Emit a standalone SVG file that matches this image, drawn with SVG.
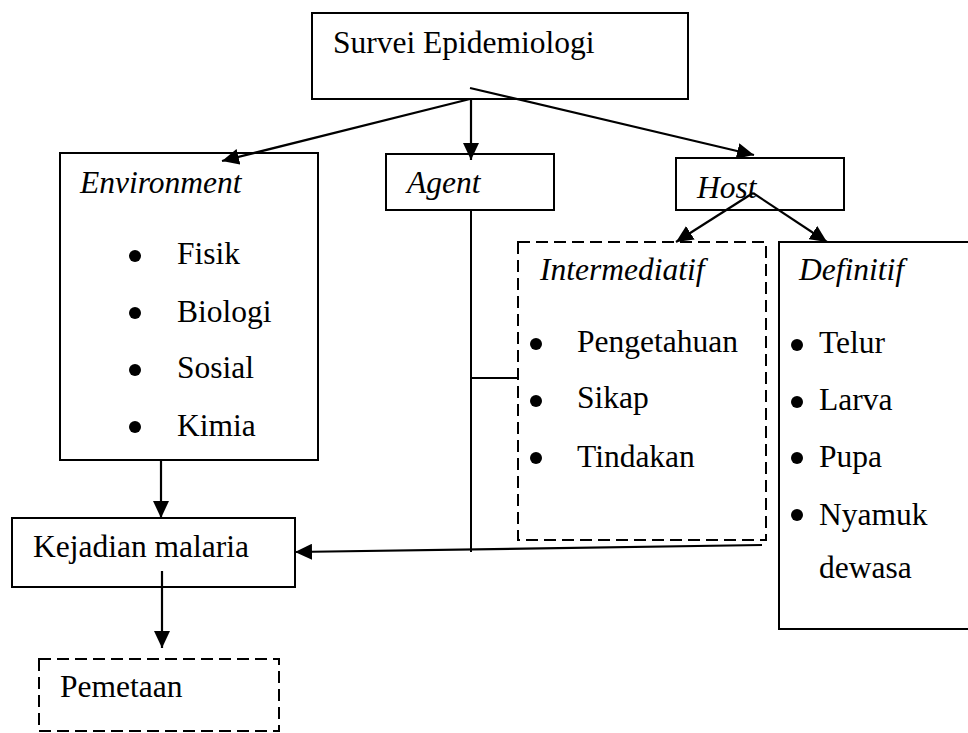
<svg xmlns="http://www.w3.org/2000/svg" width="968" height="733" viewBox="0 0 968 733">
<style>
.box{fill:#fff;stroke:#000;stroke-width:2}
.dash{fill:#fff;stroke:#000;stroke-width:2;stroke-dasharray:12,6}
.t{font-family:"Liberation Serif","Times New Roman",serif;font-size:31.5px;fill:#000}
.i{font-style:italic}
.ln{fill:none;stroke:#000;stroke-width:2}
.ar{fill:none;stroke:#000;stroke-width:2.2;marker-end:url(#ah)}
</style>
<defs>
<marker id="ah" markerUnits="userSpaceOnUse" markerWidth="18" markerHeight="16" refX="17" refY="8" orient="auto">
<path d="M0,0 L17,8 L0,16 Z" fill="#000"/>
</marker>
</defs>
<g id="survei"><rect class="box" x="312" y="13" width="376" height="86"/><text class="t" x="333" y="53">Survei Epidemiologi</text></g>
<g id="environment"><rect class="box" x="60" y="153" width="258" height="307"/>
<text class="t i" x="80" y="193">Environment</text>
<circle cx="135" cy="256" r="6"/><circle cx="135" cy="313" r="6"/><circle cx="135" cy="370" r="6"/><circle cx="135" cy="427" r="6"/>
<text class="t" x="177" y="264">Fisik</text><text class="t" x="177" y="322">Biologi</text><text class="t" x="177" y="378">Sosial</text><text class="t" x="177" y="436">Kimia</text></g>
<g id="agent"><rect class="box" x="386" y="154" width="168" height="56"/><text class="t i" x="407" y="193">Agent</text></g>
<g id="host"><rect class="box" x="676" y="158" width="168" height="52"/><text class="t i" x="697" y="198">Host</text></g>
<g id="intermediatif"><rect class="dash" x="518" y="242" width="248" height="298"/>
<text class="t i" x="540" y="280">Intermediatif</text>
<circle cx="536" cy="344" r="6"/><circle cx="536" cy="401" r="6"/><circle cx="536" cy="458" r="6"/>
<text class="t" x="577" y="352">Pengetahuan</text><text class="t" x="577" y="408">Sikap</text><text class="t" x="577" y="467">Tindakan</text></g>
<g id="definitif"><rect class="box" x="779" y="242" width="200" height="387"/>
<text class="t i" x="799" y="280">Definitif</text>
<circle cx="797" cy="345" r="6"/><circle cx="797" cy="402" r="6"/><circle cx="797" cy="458" r="6"/><circle cx="797" cy="515" r="6"/>
<text class="t" x="819" y="353">Telur</text><text class="t" x="819" y="410">Larva</text><text class="t" x="819" y="467">Pupa</text><text class="t" x="819" y="525">Nyamuk</text><text class="t" x="819" y="578">dewasa</text></g>
<g id="kejadian"><rect class="box" x="12" y="518" width="283" height="69"/><text class="t" x="33" y="557">Kejadian malaria</text></g>
<g id="pemetaan"><rect class="dash" x="39" y="659" width="240" height="72"/><text class="t" x="60" y="697">Pemetaan</text></g>
<g id="connectors">
<line class="ar" x1="470" y1="99" x2="222" y2="161"/>
<line class="ar" x1="471" y1="99" x2="471" y2="160"/>
<line class="ar" x1="470" y1="88" x2="754" y2="155"/>
<line class="ar" x1="753" y1="193" x2="676" y2="242"/>
<line class="ar" x1="753" y1="193" x2="827" y2="242"/>
<line class="ar" x1="161" y1="460" x2="161" y2="518"/>
<line class="ar" x1="162" y1="571" x2="162" y2="648"/>
<line class="ln" x1="471" y1="210" x2="471" y2="552"/>
<line class="ln" x1="471" y1="378" x2="518" y2="378"/>
<line class="ar" x1="762" y1="545" x2="295" y2="552"/>
</g>
</svg>
